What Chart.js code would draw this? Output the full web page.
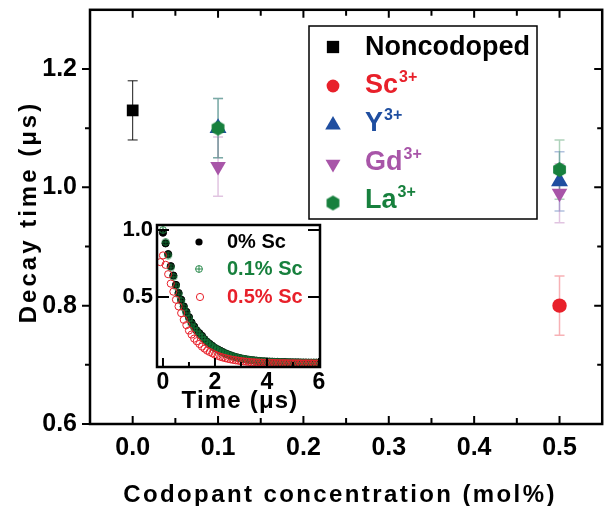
<!DOCTYPE html>
<html>
<head>
<meta charset="utf-8">
<script src="https://cdn.jsdelivr.net/npm/chart.js@4.4.1/dist/chart.umd.min.js"></script>
<style>
  html, body { margin: 0; padding: 0; background: #fff; overflow: hidden; width: 606px; height: 506px; }
  #wrap { position: relative; width: 612px; height: 506px; }
  #main { position: absolute; left: 0; top: 0; }
  #inset { position: absolute; left: 100px; top: 212px; }
</style>
</head>
<body>
<div id="wrap">
  <canvas id="main" width="612" height="506"></canvas>
  <canvas id="inset" width="230" height="205"></canvas>
</div>
<script>
// ---- main panel: decay time vs codopant concentration ----
const CONC_TICKS = [0.0, 0.1, 0.2, 0.3, 0.4, 0.5];
const DECAY_TICKS = [0.6, 0.8, 1.0, 1.2];

const NONCO_X = [0.0];
const NONCO_Y = [1.13];
const NONCO_ERR = [0.05];

const SC_X = [0.5];
const SC_Y = [0.80];
const SC_ERR = [0.05];

const YT_X = [0.1, 0.5];
const YT_Y = [1.10, 1.01];
const YT_ERR = [0.05, 0.05];

const GD_X = [0.1, 0.5];
const GD_Y = [1.035, 0.99];
const GD_ERR = [0.05, 0.05];

const LA_X = [0.1, 0.5];
const LA_Y = [1.10, 1.03];
const LA_ERR = [0.05, 0.05];

// ---- inset: normalized luminescence decay ----
const TIME_TICKS = [0, 2, 4, 6];
const NORM_TICKS = [0.5, 1.0];
const TIME = [-0.1, 0.0, 0.1, 0.2, 0.3, 0.4, 0.5, 0.6, 0.7, 0.8, 0.9,
  1.0, 1.1, 1.2, 1.3, 1.4, 1.5, 1.6, 1.7, 1.8, 1.9,
  2.0, 2.1, 2.2, 2.3, 2.4, 2.5, 2.6, 2.7, 2.8, 2.9,
  3.0, 3.1, 3.2, 3.3, 3.4, 3.5, 3.6, 3.7, 3.8, 3.9,
  4.0, 4.1, 4.2, 4.3, 4.4, 4.5, 4.6, 4.7, 4.8, 4.9,
  5.0, 5.1, 5.2, 5.3, 5.4, 5.5, 5.6, 5.7, 5.8, 5.9, 6.0];
const SC0 = [null,
  0.98, 0.90, 0.82, 0.73, 0.66, 0.59, 0.53, 0.48, 0.43, 0.39,
  0.35, 0.31, 0.28, 0.25, 0.23, 0.21, 0.185, 0.165, 0.15, 0.135,
  0.12, 0.11, 0.10, 0.09, 0.08, 0.072, 0.065, 0.058, 0.052, 0.047,
  0.042, 0.038, 0.035, 0.032, 0.029, 0.027, 0.025, 0.023, 0.021, 0.020,
  0.019, 0.018, 0.017, 0.016, 0.016, 0.015, 0.014, 0.014, 0.013, 0.013,
  0.012, 0.012, 0.012, 0.011, 0.011, 0.011, 0.010, 0.010, 0.010, 0.010,
  0.010];
const SC01 = [null,
  1.00, 0.91, 0.81, 0.72, 0.65, 0.58, 0.52, 0.47, 0.42, 0.38,
  0.34, 0.30, 0.27, 0.245, 0.22, 0.20, 0.18, 0.16, 0.145, 0.13,
  0.118, 0.106, 0.096, 0.086, 0.078, 0.070, 0.063, 0.057, 0.051, 0.046,
  0.042, 0.038, 0.034, 0.031, 0.028, 0.026, 0.024, 0.022, 0.020, 0.019,
  0.018, 0.016, 0.017, 0.015, 0.014, 0.015, 0.013, 0.012, 0.013, 0.011,
  0.012, 0.011, 0.010, 0.011, 0.010, 0.009, 0.010, 0.009, 0.010, 0.009,
  0.009];
const SC05 = [0.76,
  0.81, 0.74, 0.67, 0.60, 0.54, 0.48, 0.43, 0.38, 0.33, 0.29,
  0.25, 0.22, 0.19, 0.17, 0.15, 0.13, 0.115, 0.10, 0.09, 0.08,
  0.07, 0.062, 0.055, 0.049, 0.044, 0.039, 0.035, 0.031, 0.028, 0.025,
  0.022, 0.020, 0.018, 0.016, 0.014, 0.013, 0.012, 0.011, 0.010, 0.009,
  0.009, 0.008, 0.008, 0.007, 0.007, 0.006, 0.007, 0.006, 0.006, 0.005,
  0.006, 0.005, 0.005, 0.005, 0.004, 0.005, 0.004, 0.005, 0.004, 0.004,
  0.004];

const FONT = 'Liberation Sans, Arial, Helvetica, sans-serif';
const BLACK = '#000000', RED = '#e8202a', BLUE = '#1f4ea0', PURPLE = '#a855a8', GREEN = '#17803d';

function hexagon(r, color) {
  const s = Math.ceil(2 * r) + 2;
  const c = document.createElement('canvas');
  c.width = s; c.height = s;
  const g = c.getContext('2d');
  g.fillStyle = color;
  g.beginPath();
  for (let i = 0; i < 6; i++) {
    const a = Math.PI / 3 * i - Math.PI / 2;
    const px = s / 2 + r * Math.cos(a), py = s / 2 + r * Math.sin(a);
    if (i) g.lineTo(px, py); else g.moveTo(px, py);
  }
  g.closePath();
  g.fill();
  return c;
}

function circlePlus(r, color) {
  const s = Math.ceil(2 * r) + 3;
  const c = document.createElement('canvas');
  c.width = s; c.height = s;
  const g = c.getContext('2d');
  g.strokeStyle = color;
  g.lineWidth = 1;
  g.beginPath();
  g.arc(s / 2, s / 2, r, 0, Math.PI * 2);
  g.moveTo(s / 2 - r, s / 2); g.lineTo(s / 2 + r, s / 2);
  g.moveTo(s / 2, s / 2 - r); g.lineTo(s / 2, s / 2 + r);
  g.stroke();
  return c;
}

// keep the plot area fixed: no extra room reserved for edge labels
function noEdgePadding(sc) {
  sc.paddingTop = 0; sc.paddingBottom = 0; sc.paddingLeft = 0; sc.paddingRight = 0;
}

const SERIES = [
  { label: 'Noncodoped', sup: '', xs: NONCO_X, ys: NONCO_Y, err: NONCO_ERR, color: BLACK, errColor: 'rgba(0,0,0,0.9)', errWidth: 1,
    style: 'rect', rot: 0, r: 8.3, legR: 8.7, order: 4 },
  { label: 'Sc', sup: '3+', xs: SC_X, ys: SC_Y, err: SC_ERR, color: RED, errColor: 'rgba(232,32,42,0.35)', errWidth: 1.5,
    style: 'circle', rot: 0, r: 7.2, legR: 6.4, order: 3 },
  { label: 'Y', sup: '3+', xs: YT_X, ys: YT_Y, err: YT_ERR, color: BLUE, errColor: 'rgba(31,78,160,0.35)', errWidth: 1.5,
    style: 'triangle', rot: 0, r: 9.8, legR: 9, order: 2 },
  { label: 'Gd', sup: '3+', xs: GD_X, ys: GD_Y, err: GD_ERR, color: PURPLE, errColor: 'rgba(168,85,168,0.35)', errWidth: 1.5,
    style: 'triangle', rot: 180, r: 9, legR: 8.6, order: 1 },
  { label: 'La', sup: '3+', xs: LA_X, ys: LA_Y, err: LA_ERR, color: GREEN, errColor: 'rgba(23,128,61,0.35)', errWidth: 1.5,
    style: hexagon(7.4, GREEN), rot: 0, r: 7.4, legR: 7.4, order: 0 }
];

// frame, tick marks, error bars, axis titles and legend of the main panel
const mainDecor = {
  id: 'mainDecor',
  beforeDatasetsDraw(chart) {
    const ctx = chart.ctx, xs = chart.scales.x, ys = chart.scales.y;
    ctx.save();
    SERIES.forEach(s => {
      ctx.strokeStyle = s.errColor;
      ctx.lineWidth = s.errWidth;
      s.xs.forEach((xv, i) => {
        const px = xs.getPixelForValue(xv);
        const pt = ys.getPixelForValue(s.ys[i] + s.err[i]);
        const pb = ys.getPixelForValue(s.ys[i] - s.err[i]);
        ctx.beginPath();
        ctx.moveTo(px, pt); ctx.lineTo(px, pb);
        ctx.moveTo(px - 5, pt); ctx.lineTo(px + 5, pt);
        ctx.moveTo(px - 5, pb); ctx.lineTo(px + 5, pb);
        ctx.stroke();
      });
    });
    ctx.restore();
  },
  afterDraw(chart) {
    const ctx = chart.ctx, a = chart.chartArea, xs = chart.scales.x, ys = chart.scales.y;
    ctx.save();
    ctx.strokeStyle = BLACK;
    ctx.lineWidth = 2.5;
    ctx.strokeRect(a.left, a.top, a.right - a.left, a.bottom - a.top);
    ctx.lineWidth = 2;
    ctx.beginPath();
    const step = CONC_TICKS[1] - CONC_TICKS[0];
    CONC_TICKS.forEach(v => {
      [[v, 8], [v + step / 2, 6]].forEach(([tv, len]) => {
        if (tv >= xs.max - 1e-9) return;
        const px = xs.getPixelForValue(tv);
        ctx.moveTo(px, a.bottom); ctx.lineTo(px, a.bottom - len);
        ctx.moveTo(px, a.top); ctx.lineTo(px, a.top + len);
      });
    });
    const ystep = DECAY_TICKS[1] - DECAY_TICKS[0];
    DECAY_TICKS.forEach(v => {
      [[v, 8], [v + ystep / 2, 5]].forEach(([tv, len]) => {
        if (tv >= ys.max - 1e-9) return;
        const py = ys.getPixelForValue(tv);
        ctx.moveTo(a.left, py); ctx.lineTo(a.left - len, py);
        ctx.moveTo(a.right, py); ctx.lineTo(a.right - len, py);
      });
    });
    ctx.stroke();

    // axis titles
    ctx.fillStyle = BLACK;
    ctx.font = 'bold 24px ' + FONT;
    ctx.textAlign = 'center';
    ctx.textBaseline = 'alphabetic';
    ctx.letterSpacing = '2.4px';
    ctx.fillText('Codopant concentration (mol%)', 340, 502);
    ctx.save();
    ctx.translate(36, 212);
    ctx.rotate(-Math.PI / 2);
    ctx.letterSpacing = '3px';
    ctx.fillText('Decay time (\u03bcs)', 0, 0);
    ctx.restore();
    ctx.letterSpacing = '0px';

    // legend
    ctx.lineWidth = 1.5;
    ctx.strokeRect(309, 26, 228, 193);
    const base = [55, 93, 131, 170, 208];
    const mark = [47, 86, 125, 164, 203];
    SERIES.forEach((s, i) => {
      ctx.fillStyle = s.color;
      ctx.strokeStyle = s.color;
      Chart.helpers.drawPoint(ctx, { pointStyle: s.style, rotation: s.rot, radius: s.legR, borderWidth: 0 }, 333, mark[i]);
      ctx.font = 'bold 27px ' + FONT;
      ctx.textAlign = 'left';
      ctx.textBaseline = 'alphabetic';
      ctx.fillText(s.label, 365, base[i]);
      if (s.sup) {
        const w = ctx.measureText(s.label).width;
        ctx.font = 'bold 16px ' + FONT;
        ctx.fillText(s.sup, 365 + w + 1, base[i] - 11);
      }
    });
    ctx.restore();
  }
};

const tickFont = { family: FONT, weight: 'bold', size: 25 };

new Chart(document.getElementById('main'), {
  type: 'scatter',
  data: {
    datasets: SERIES.map(s => ({
      label: s.label,
      data: s.xs.map((x, i) => ({ x: x, y: s.ys[i] })),
      pointStyle: s.style,
      rotation: s.rot,
      pointRadius: s.r,
      pointHoverRadius: s.r,
      backgroundColor: s.color,
      borderColor: s.color,
      borderWidth: 0,
      order: s.order,
      clip: false
    }))
  },
  options: {
    responsive: false,
    animation: false,
    events: [],
    layout: { padding: { top: 8, right: 4, left: 0, bottom: 0 } },
    plugins: { legend: { display: false }, tooltip: { enabled: false } },
    scales: {
      x: {
        type: 'linear', min: -0.05, max: 0.55,
        grid: { display: false, drawTicks: false },
        border: { display: false },
        afterBuildTicks: sc => { sc.ticks = CONC_TICKS.map(v => ({ value: v })); },
        afterFit: sc => { sc.height = 82; noEdgePadding(sc); },
        ticks: { font: tickFont, color: BLACK, padding: 9, maxRotation: 0, callback: v => Number(v).toFixed(1) }
      },
      y: {
        type: 'linear', min: 0.6, max: 1.3,
        grid: { display: false, drawTicks: false },
        border: { display: false },
        afterBuildTicks: sc => { sc.ticks = DECAY_TICKS.map(v => ({ value: v })); },
        afterFit: sc => { sc.width = 90; noEdgePadding(sc); },
        ticks: { font: tickFont, color: BLACK, padding: 13, callback: v => Number(v).toFixed(1) }
      }
    }
  },
  plugins: [mainDecor]
});

// ---- inset chart ----
const INSET_SERIES = [
  { label: '0% Sc', ys: SC0, color: BLACK, order: 2 },
  { label: '0.1% Sc', ys: SC01, color: GREEN, order: 1 },
  { label: '0.5% Sc', ys: SC05, color: RED, order: 0 }
];
const plusMark = circlePlus(3.4, 'rgba(23,128,61,0.9)');

const insetDecor = {
  id: 'insetDecor',
  afterDraw(chart) {
    const ctx = chart.ctx, a = chart.chartArea, xs = chart.scales.x, ys = chart.scales.y;
    ctx.save();
    ctx.strokeStyle = BLACK;
    ctx.lineWidth = 2.5;
    ctx.strokeRect(a.left, a.top, a.right - a.left, a.bottom - a.top);
    ctx.lineWidth = 2;
    ctx.beginPath();
    for (let t = TIME_TICKS[0]; t <= TIME_TICKS[TIME_TICKS.length - 1]; t += 1) {
      const px = xs.getPixelForValue(t);
      const len = TIME_TICKS.includes(t) ? 9 : 5;
      ctx.moveTo(px, a.bottom); ctx.lineTo(px, a.bottom - len);
    }
    NORM_TICKS.forEach(v => {
      const py = ys.getPixelForValue(v);
      ctx.moveTo(a.left, py); ctx.lineTo(a.left + 12, py);
      ctx.moveTo(a.right, py); ctx.lineTo(a.right - 12, py);
    });
    ctx.stroke();

    // title
    ctx.fillStyle = BLACK;
    ctx.font = 'bold 24px ' + FONT;
    ctx.textAlign = 'center';
    ctx.textBaseline = 'alphabetic';
    ctx.letterSpacing = '1.2px';
    ctx.fillText('Time (\u03bcs)', 140, 196);
    ctx.letterSpacing = '0px';

    // legend
    const rows = [30, 57, 85];
    INSET_SERIES.forEach((s, i) => {
      const y = rows[i];
      if (i === 0) {
        ctx.fillStyle = BLACK;
        ctx.beginPath(); ctx.arc(99, y, 3.6, 0, Math.PI * 2); ctx.fill();
      } else if (i === 1) {
        ctx.drawImage(plusMark, 99 - plusMark.width / 2, y - plusMark.height / 2);
      } else {
        ctx.strokeStyle = RED; ctx.lineWidth = 1;
        ctx.beginPath(); ctx.arc(100, y, 3.6, 0, Math.PI * 2); ctx.stroke();
      }
      ctx.fillStyle = s.color;
      ctx.font = 'bold 20px ' + FONT;
      ctx.textAlign = 'left';
      ctx.textBaseline = 'middle';
      ctx.fillText(s.label, 127, y);
    });
    ctx.restore();
  }
};

const insetTickFont = { family: FONT, weight: 'bold', size: 23 };

new Chart(document.getElementById('inset'), {
  type: 'scatter',
  data: {
    datasets: INSET_SERIES.map((s, k) => ({
      label: s.label,
      data: TIME.map((t, i) => ({ x: t, y: s.ys[i] })),
      pointStyle: k === 1 ? plusMark : 'circle',
      pointRadius: 3.6,
      pointHoverRadius: 3.6,
      backgroundColor: k === 0 ? BLACK : 'rgba(0,0,0,0)',
      borderColor: s.color,
      borderWidth: 1,
      order: s.order
    }))
  },
  options: {
    responsive: false,
    animation: false,
    events: [],
    layout: { padding: { top: 13, right: 10, left: 0, bottom: 0 } },
    plugins: { legend: { display: false }, tooltip: { enabled: false } },
    scales: {
      x: {
        type: 'linear', min: -0.23, max: 6.04,
        grid: { display: false, drawTicks: false },
        border: { display: false },
        afterBuildTicks: sc => { sc.ticks = TIME_TICKS.map(v => ({ value: v })); },
        afterFit: sc => { sc.height = 50; noEdgePadding(sc); },
        ticks: { font: insetTickFont, color: BLACK, padding: 2, maxRotation: 0, callback: v => String(v) }
      },
      y: {
        type: 'linear', min: -0.022, max: 1.037,
        grid: { display: false, drawTicks: false },
        border: { display: false },
        afterBuildTicks: sc => { sc.ticks = NORM_TICKS.map(v => ({ value: v })); },
        afterFit: sc => { sc.width = 57; noEdgePadding(sc); },
        ticks: { font: { family: FONT, weight: 'bold', size: 22 }, color: BLACK, padding: 4, callback: v => Number(v).toFixed(1) }
      }
    }
  },
  plugins: [insetDecor]
});
</script>
</body>
</html>
